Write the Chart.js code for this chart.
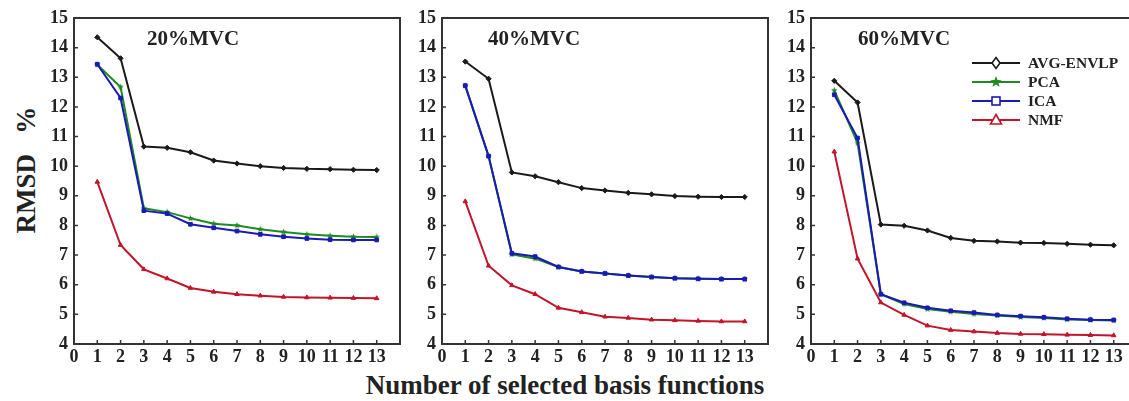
<!DOCTYPE html>
<html><head><meta charset="utf-8">
<script src="https://cdn.jsdelivr.net/npm/chart.js@4/dist/chart.umd.min.js"></script>
<style>
html,body{margin:0;padding:0;background:#fff;width:1129px;height:401px;overflow:hidden;position:relative;}
.pc{position:absolute;top:0;width:401px;height:401px;}
#ytitle{position:absolute;left:26px;top:170px;transform:translate(-50%,-50%) rotate(-90deg);font:bold 27px "Liberation Serif";white-space:pre;color:#222;}
#xtitle{position:absolute;left:565px;top:385px;transform:translate(-50%,-50%);font:bold 27px "Liberation Serif";white-space:nowrap;color:#222;}
</style></head><body>
<div id="ytitle">RMSD   %</div>
<div id="xtitle">Number of selected basis functions</div>
<div class="pc" style="left:14px"><canvas id="c0" width="401" height="401"></canvas></div>
<div class="pc" style="left:382px"><canvas id="c1" width="401" height="401"></canvas></div>
<div class="pc" style="left:751px"><canvas id="c2" width="401" height="401"></canvas></div>
<script>
// ---- data ----
const basisCounts = [1,2,3,4,5,6,7,8,9,10,11,12,13];
const xTickLabels = ['0','1','2','3','4','5','6','7','8','9','10','11','12','13'];
const yTickLabels = ['4','5','6','7','8','9','10','11','12','13','14','15'];
const seriesNames = ['AVG-ENVLP','PCA','ICA','NMF'];
const panelTitles = ['20%MVC','40%MVC','60%MVC'];

const avg20 = [14.35,13.64,10.66,10.62,10.47,10.19,10.09,10.00,9.94,9.91,9.90,9.88,9.87];
const pca20 = [13.42,12.67,8.58,8.45,8.24,8.06,8.00,7.87,7.78,7.70,7.65,7.62,7.61];
const ica20 = [13.44,12.30,8.50,8.40,8.04,7.92,7.81,7.70,7.62,7.56,7.52,7.51,7.51];
const nmf20 = [9.47,7.34,6.52,6.21,5.89,5.76,5.68,5.63,5.59,5.57,5.56,5.55,5.54];

const avg40 = [13.53,12.95,9.79,9.66,9.46,9.26,9.18,9.10,9.05,8.99,8.97,8.96,8.96];
const pca40 = [12.71,10.34,7.02,6.88,6.60,6.45,6.38,6.31,6.26,6.22,6.20,6.19,6.19];
const ica40 = [12.72,10.34,7.06,6.95,6.60,6.45,6.38,6.31,6.26,6.22,6.20,6.19,6.19];
const nmf40 = [8.81,6.64,5.98,5.68,5.22,5.07,4.92,4.88,4.82,4.80,4.78,4.76,4.76];

const avg60 = [12.88,12.15,8.03,7.99,7.83,7.58,7.48,7.46,7.42,7.41,7.38,7.35,7.33];
const pca60 = [12.56,10.78,5.68,5.35,5.18,5.09,5.01,4.96,4.91,4.88,4.83,4.81,4.79];
const ica60 = [12.41,10.95,5.68,5.39,5.22,5.12,5.06,4.98,4.94,4.90,4.85,4.82,4.81];
const nmf60 = [10.49,6.88,5.40,4.98,4.62,4.47,4.42,4.37,4.34,4.33,4.31,4.30,4.29];

// ---- styles ----
const seriesColors = ['#1a1a1a','#1f8a1f','#1a1ab4','#c2142a'];
const seriesStyles = ['rectRot','star5','rect','triangle'];
const seriesOrder = [0,2,1,3];
const FONT = '"Liberation Serif", "Times New Roman", serif';
const AXIS = '#333';
const titleOffsets = [73,46,47];

function starPath(ctx, x, y, r){
  ctx.beginPath();
  for(let i=0;i<10;i++){
    const a = -Math.PI/2 + i*Math.PI/5;
    const rr = i%2===0 ? r : r*0.42;
    const px = x + rr*Math.cos(a), py = y + rr*Math.sin(a);
    if(i===0) ctx.moveTo(px,py); else ctx.lineTo(px,py);
  }
  ctx.closePath();
}
function makeStar(color, r){
  const c = document.createElement('canvas');
  const s = Math.ceil(r*2+2);
  c.width = s; c.height = s;
  const ctx = c.getContext('2d');
  ctx.fillStyle = color;
  starPath(ctx, s/2, s/2, r);
  ctx.fill();
  return c;
}
function pointStyleFor(i, r){
  return seriesStyles[i]==='star5' ? makeStar(seriesColors[i], r) : seriesStyles[i];
}

function drawMarker(ctx, i, x, y){
  const col = seriesColors[i];
  ctx.save();
  ctx.strokeStyle = col; ctx.lineWidth = 1.6;
  const st = seriesStyles[i];
  if(st==='star5'){
    ctx.fillStyle = col; starPath(ctx,x,y,6); ctx.fill();
  } else if(st==='rectRot'){
    ctx.fillStyle = '#fff';
    ctx.beginPath(); ctx.moveTo(x,y-5.5); ctx.lineTo(x+4,y); ctx.lineTo(x,y+5.5); ctx.lineTo(x-4,y); ctx.closePath();
    ctx.fill(); ctx.stroke();
  } else if(st==='rect'){
    ctx.fillStyle = '#fff'; ctx.fillRect(x-4,y-4,8,8); ctx.strokeRect(x-4,y-4,8,8);
  } else {
    ctx.fillStyle = '#fff';
    ctx.beginPath(); ctx.moveTo(x,y-5.5); ctx.lineTo(x+5.5,y+4); ctx.lineTo(x-5.5,y+4); ctx.closePath();
    ctx.fill(); ctx.stroke();
  }
  ctx.restore();
}

const framePlugin = {
  id: 'frame',
  afterDraw(chart, args, opts){
    const ctx = chart.ctx, a = chart.chartArea;
    const xs = chart.scales.x, ys = chart.scales.y;
    ctx.save();
    ctx.strokeStyle = AXIS; ctx.lineWidth = 2;
    ctx.strokeRect(a.left, a.top, a.right-a.left, a.bottom-a.top);
    ctx.lineWidth = 1.5;
    ctx.beginPath();
    basisCounts.forEach(v => { const px = xs.getPixelForValue(v); ctx.moveTo(px, a.bottom); ctx.lineTo(px, a.bottom-4); });
    yTickLabels.forEach(t => { const v = Number(t); if(v>4 && v<15){ const py = ys.getPixelForValue(v); ctx.moveTo(a.left, py); ctx.lineTo(a.left+4, py);} });
    ctx.stroke();
    ctx.fillStyle = '#222';
    ctx.font = 'bold 21px ' + FONT;
    ctx.textBaseline = 'middle'; ctx.textAlign = 'left';
    ctx.fillText(opts.title, a.left + opts.titleX, 40);
    if(opts.legend){
      ctx.font = 'bold 15.5px ' + FONT;
      chart.data.datasets.forEach((ds, i) => {
        const y = a.top + 45 + i*19;
        const x0 = a.left + 161, x1 = a.left + 209;
        ctx.strokeStyle = seriesColors[i]; ctx.lineWidth = 2;
        ctx.beginPath(); ctx.moveTo(x0,y); ctx.lineTo(x1,y); ctx.stroke();
        drawMarker(ctx, i, (x0+x1)/2, y);
        ctx.fillStyle = '#222';
        ctx.fillText(ds.label, a.left + 217, y+1);
      });
    }
    ctx.restore();
  }
};

const panels = [
  [avg20, pca20, ica20, nmf20],
  [avg40, pca40, ica40, nmf40],
  [avg60, pca60, ica60, nmf60]
];

panels.forEach((series, p) => {
  new Chart(document.getElementById('c'+p), {
    type: 'line',
    data: {
      datasets: series.map((vals, i) => ({
        label: seriesNames[i],
        data: basisCounts.map((x, k) => ({x: x, y: vals[k]})),
        borderColor: seriesColors[i],
        backgroundColor: seriesColors[i],
        borderWidth: 2,
        pointStyle: pointStyleFor(i, 3.5),
        pointRadius: 2.6,
        pointBorderWidth: 1,
        tension: 0,
        order: seriesOrder[i]
      }))
    },
    options: {
      responsive: false,
      animation: false,
      layout: { padding: { top: 18, bottom: 27, left: 0, right: 15 } },
      plugins: {
        legend: { display: false },
        tooltip: { enabled: false },
        frame: { title: panelTitles[p], titleX: titleOffsets[p], legend: p === 2 }
      },
      scales: {
        x: {
          type: 'linear', min: 0, max: 14,
          afterFit: s => { s.height = 30; },
          grid: { display: false, drawTicks: false },
          border: { display: false },
          ticks: {
            stepSize: 1, autoSkip: false, maxRotation: 0, padding: 3,
            color: '#222', font: { family: FONT, size: 18, weight: 'bold' },
            callback: v => (v >= 0 && v < xTickLabels.length) ? xTickLabels[v] : ''
          }
        },
        y: {
          min: 4, max: 15,
          afterFit: s => { s.width = 60; },
          grid: { display: false, drawTicks: false },
          border: { display: false },
          ticks: {
            stepSize: 1, autoSkip: false, padding: 6,
            color: '#222', font: { family: FONT, size: 18, weight: 'bold' },
            callback: v => yTickLabels[v - 4]
          }
        }
      }
    },
    plugins: [framePlugin]
  });
});
</script>
</body></html>
